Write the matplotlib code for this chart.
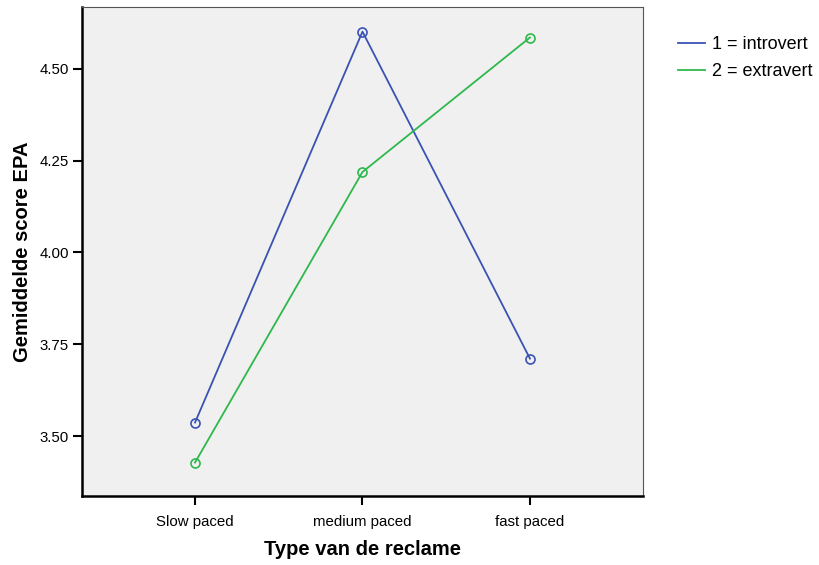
import matplotlib
matplotlib.use('Agg')
import matplotlib.pyplot as plt

plt.rcParams['font.family'] = ['Liberation Sans', 'DejaVu Sans']

categories = ['Slow paced', 'medium paced', 'fast paced']
introvert = [3.537, 4.601, 3.711]
extravert = [3.428, 4.219, 4.585]
yticks = [3.50, 3.75, 4.00, 4.25, 4.50]

fig = plt.figure(figsize=(8.19, 5.65), dpi=100)
ax = fig.add_axes([0.1001, 0.1221, 0.685, 0.8655])
ax.set_facecolor('#f0f0f0')

x = range(len(categories))
ax.plot(x, introvert, color='#3a52b3', lw=1.3, marker='o', ms=6.5,
        mfc='none', mec='#3a52b3', mew=1.2, label='1 = introvert')
ax.plot(x, extravert, color='#2eb84c', lw=1.3, marker='o', ms=6.5,
        mfc='none', mec='#2eb84c', mew=1.2, label='2 = extravert')

ax.set_xlim(-0.675, 2.675)
ax.set_ylim(3.337, 4.668)
ax.set_xticks(list(x))
ax.set_xticklabels(categories, fontsize=10.8)
ax.set_yticks(yticks)
ax.set_yticklabels(['%.2f' % v for v in yticks], fontsize=10.8)
ax.tick_params(direction='out', length=6.5, width=1.5, pad=3)
ax.tick_params(axis='x', pad=7)

for s in ['left', 'bottom']:
    ax.spines[s].set_linewidth(1.8)
    ax.spines[s].set_color('black')
for s in ['top', 'right']:
    ax.spines[s].set_linewidth(0.8)
    ax.spines[s].set_color('#555555')

ax.set_xlabel('Type van de reclame', fontsize=14.5, fontweight='bold', labelpad=8)
ax.set_ylabel('Gemiddelde score EPA', fontsize=14.5, fontweight='bold', labelpad=5)

leg = ax.legend(loc='upper left', bbox_to_anchor=(1.062, 0.94), frameon=False,
                fontsize=13, handlelength=1.5, handletextpad=0.4,
                labelspacing=0.55, borderpad=0, borderaxespad=0)
for h in leg.legend_handles:
    h.set_marker('')

fig.savefig('out.png', dpi=100)
